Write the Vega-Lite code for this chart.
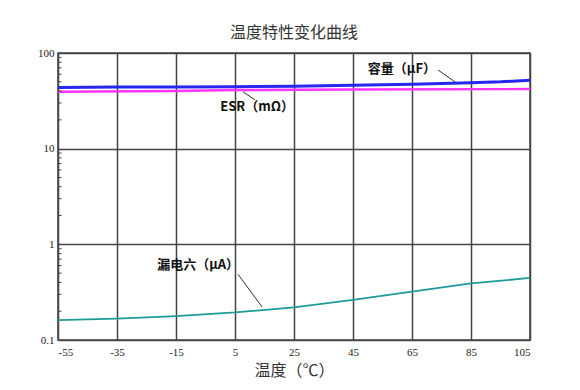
{
  "$schema": "https://vega.github.io/schema/vega-lite/v6.json",
  "autosize": "none",
  "width": 472,
  "height": 287,
  "padding": {"left": 58, "top": 53, "right": 50, "bottom": 50},
  "background": "white",
  "title": {
    "text": "温度特性变化曲线",
    "font": "Noto Sans CJK SC",
    "fontSize": 16,
    "fontWeight": "normal",
    "color": "#333333",
    "anchor": "middle",
    "offset": 6
  },
  "config": {
    "view": {"stroke": "#444444", "strokeWidth": 1.5},
    "axis": {
      "labelFont": "Liberation Serif",
      "labelFontSize": 11,
      "labelColor": "#222222",
      "gridColor": "#444444",
      "gridWidth": 1.5,
      "gridOpacity": 1,
      "domain": false,
      "ticks": false
    }
  },
  "datasets": {
    "curves": [
      {"series": "cap", "temp": -55, "value": 43.5},
      {"series": "cap", "temp": -35, "value": 44},
      {"series": "cap", "temp": -15, "value": 44},
      {"series": "cap", "temp": 5, "value": 44.5},
      {"series": "cap", "temp": 25, "value": 45},
      {"series": "cap", "temp": 45, "value": 46},
      {"series": "cap", "temp": 65, "value": 47},
      {"series": "cap", "temp": 85, "value": 49},
      {"series": "cap", "temp": 95, "value": 50},
      {"series": "cap", "temp": 105, "value": 52},
      {"series": "esr", "temp": -55, "value": 39.3},
      {"series": "esr", "temp": -15, "value": 40},
      {"series": "esr", "temp": 5, "value": 41},
      {"series": "esr", "temp": 45, "value": 41.5},
      {"series": "esr", "temp": 105, "value": 42},
      {"series": "leak", "temp": -55, "value": 0.161},
      {"series": "leak", "temp": -35, "value": 0.167},
      {"series": "leak", "temp": -15, "value": 0.178},
      {"series": "leak", "temp": 5, "value": 0.194},
      {"series": "leak", "temp": 25, "value": 0.219},
      {"series": "leak", "temp": 45, "value": 0.263},
      {"series": "leak", "temp": 65, "value": 0.32},
      {"series": "leak", "temp": 85, "value": 0.39},
      {"series": "leak", "temp": 105, "value": 0.445}
    ],
    "leaders": [
      {"t1": 73.8, "v1": 66.5, "t2": 79.6, "v2": 49.9},
      {"t1": 7.7, "v1": 39.3, "t2": 11.8, "v2": 32.4},
      {"t1": 6, "v1": 0.487, "t2": 14.2, "v2": 0.221}
    ],
    "labels": [
      {"label": "容量（μF）", "temp": 61.6, "value": 68},
      {"label": "ESR（mΩ）", "temp": 12.5, "value": 27.4},
      {"label": "漏电六（μA）", "temp": -7.5, "value": 0.604}
    ],
    "minor": [
      {"v": 0.2}, {"v": 0.3}, {"v": 0.4}, {"v": 0.5}, {"v": 0.6}, {"v": 0.7}, {"v": 0.8}, {"v": 0.9},
      {"v": 2}, {"v": 3}, {"v": 4}, {"v": 5}, {"v": 6}, {"v": 7}, {"v": 8}, {"v": 9},
      {"v": 20}, {"v": 30}, {"v": 40}, {"v": 50}, {"v": 60}, {"v": 70}, {"v": 80}, {"v": 90}
    ]
  },
  "layer": [
    {
      "data": {"name": "curves"},
      "mark": {"type": "line"},
      "encoding": {
        "x": {
          "field": "temp",
          "type": "quantitative",
          "scale": {"domain": [-55, 105], "nice": false, "zero": false},
          "axis": {
            "values": [-55, -35, -15, 5, 25, 45, 65, 85, 105],
            "labelExpr": "datum.value + ''",
            "grid": true,
            "labelPadding": 6,
            "title": "温度（℃）",
            "titleFont": "Noto Sans CJK SC",
            "titleFontSize": 16,
            "titleFontWeight": "normal",
            "titleColor": "#333333",
            "titlePadding": 5
          }
        },
        "y": {
          "field": "value",
          "type": "quantitative",
          "scale": {"type": "log", "domain": [0.1, 100], "nice": false},
          "axis": {
            "values": [0.1, 1, 10, 100],
            "labelExpr": "format(datum.value, '~g')",
            "grid": true,
            "labelPadding": 4,
            "title": null
          }
        },
        "color": {
          "field": "series",
          "type": "nominal",
          "scale": {"domain": ["cap", "esr", "leak"], "range": ["#2626ee", "#ff33ff", "#1f9a9a"]},
          "legend": null
        },
        "strokeWidth": {
          "field": "series",
          "type": "nominal",
          "scale": {"domain": ["cap", "esr", "leak"], "range": [3, 1.8, 2.2]},
          "legend": null
        }
      }
    },
    {
      "data": {"name": "minor"},
      "mark": {"type": "rule", "color": "#444444", "strokeWidth": 1},
      "encoding": {
        "x": {"datum": -55, "type": "quantitative"},
        "x2": {"datum": -53.8},
        "y": {"field": "v", "type": "quantitative"}
      }
    },
    {
      "data": {"name": "leaders"},
      "mark": {"type": "rule", "color": "#333333", "strokeWidth": 1},
      "encoding": {
        "x": {"field": "t1", "type": "quantitative"},
        "y": {"field": "v1", "type": "quantitative"},
        "x2": {"field": "t2"},
        "y2": {"field": "v2"}
      }
    },
    {
      "data": {"name": "labels"},
      "mark": {"type": "text", "font": "Noto Sans CJK SC", "fontSize": 13, "fontWeight": "bold", "color": "#111111"},
      "encoding": {
        "x": {"field": "temp", "type": "quantitative"},
        "y": {"field": "value", "type": "quantitative"},
        "text": {"field": "label"}
      }
    }
  ]
}
